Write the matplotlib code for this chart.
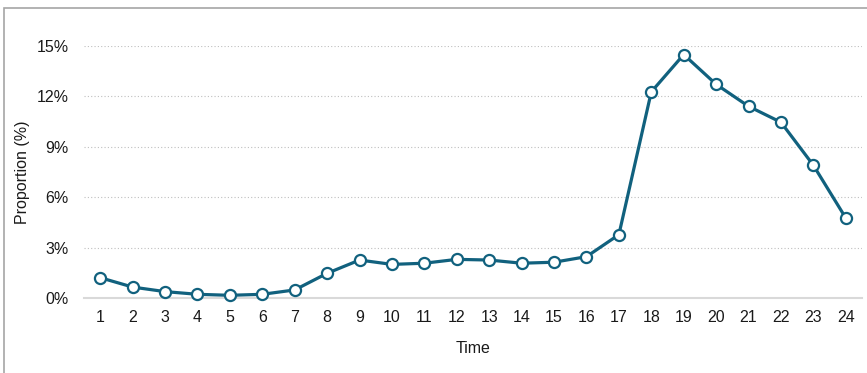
import matplotlib
matplotlib.use("Agg")
import matplotlib.pyplot as plt
from matplotlib.patches import Rectangle
from matplotlib.ticker import FuncFormatter

hours = list(range(1, 25))
proportion = [1.21, 0.65, 0.38, 0.22, 0.16, 0.22, 0.48, 1.47, 2.26, 2.00, 2.07, 2.30,
              2.26, 2.07, 2.13, 2.46, 3.77, 12.27, 14.49, 12.72, 11.41, 10.46, 7.90, 4.76]
yticks = [0, 3, 6, 9, 12, 15]

plt.rcParams['font.family'] = ['Liberation Sans', 'DejaVu Sans']

W, H = 867, 373
fig = plt.figure(figsize=(W / 100, H / 100), dpi=100)
ax = fig.add_axes([84 / W, 1 - 298 / H, (862 - 84) / W, (298 - 46) / H])

color = '#11617e'
ax.plot(hours, proportion, color=color, lw=2.3, marker='o', ms=8,
        mfc='white', mec=color, mew=1.6, clip_on=False, zorder=3)

ax.set_xlim(0.5, 24.5)
ax.set_ylim(0, 15)
ax.set_yticks(yticks)
ax.yaxis.set_major_formatter(FuncFormatter(lambda v, p: f"{v:.0f}%"))
ax.set_xticks(hours)
ax.set_xticklabels([str(h) for h in hours])

for s in ['top', 'right', 'left']:
    ax.spines[s].set_visible(False)
ax.spines['bottom'].set_color('#d9d9d9')
ax.spines['bottom'].set_linewidth(1.5)
ax.grid(axis='y', color='#bfbfbf', linestyle=(0, (1, 2)), linewidth=0.8)
ax.set_axisbelow(True)
ax.tick_params(axis='both', length=0, labelsize=11.5, colors='#1a1a1a')
ax.tick_params(axis='x', pad=9)
ax.tick_params(axis='y', pad=11)

ax.set_xlabel('Time', fontsize=11.5, color='#1a1a1a', labelpad=11)
ax.set_ylabel('Proportion (%)', fontsize=11.5, color='#1a1a1a', labelpad=5)

fig.patches.append(Rectangle((4 / W, -0.5), 2, 0.5 + 1 - 8 / H, transform=fig.transFigure,
                             fill=False, edgecolor='#a6a6a6', lw=1.2, zorder=0))

fig.savefig('out.png', dpi=100)
